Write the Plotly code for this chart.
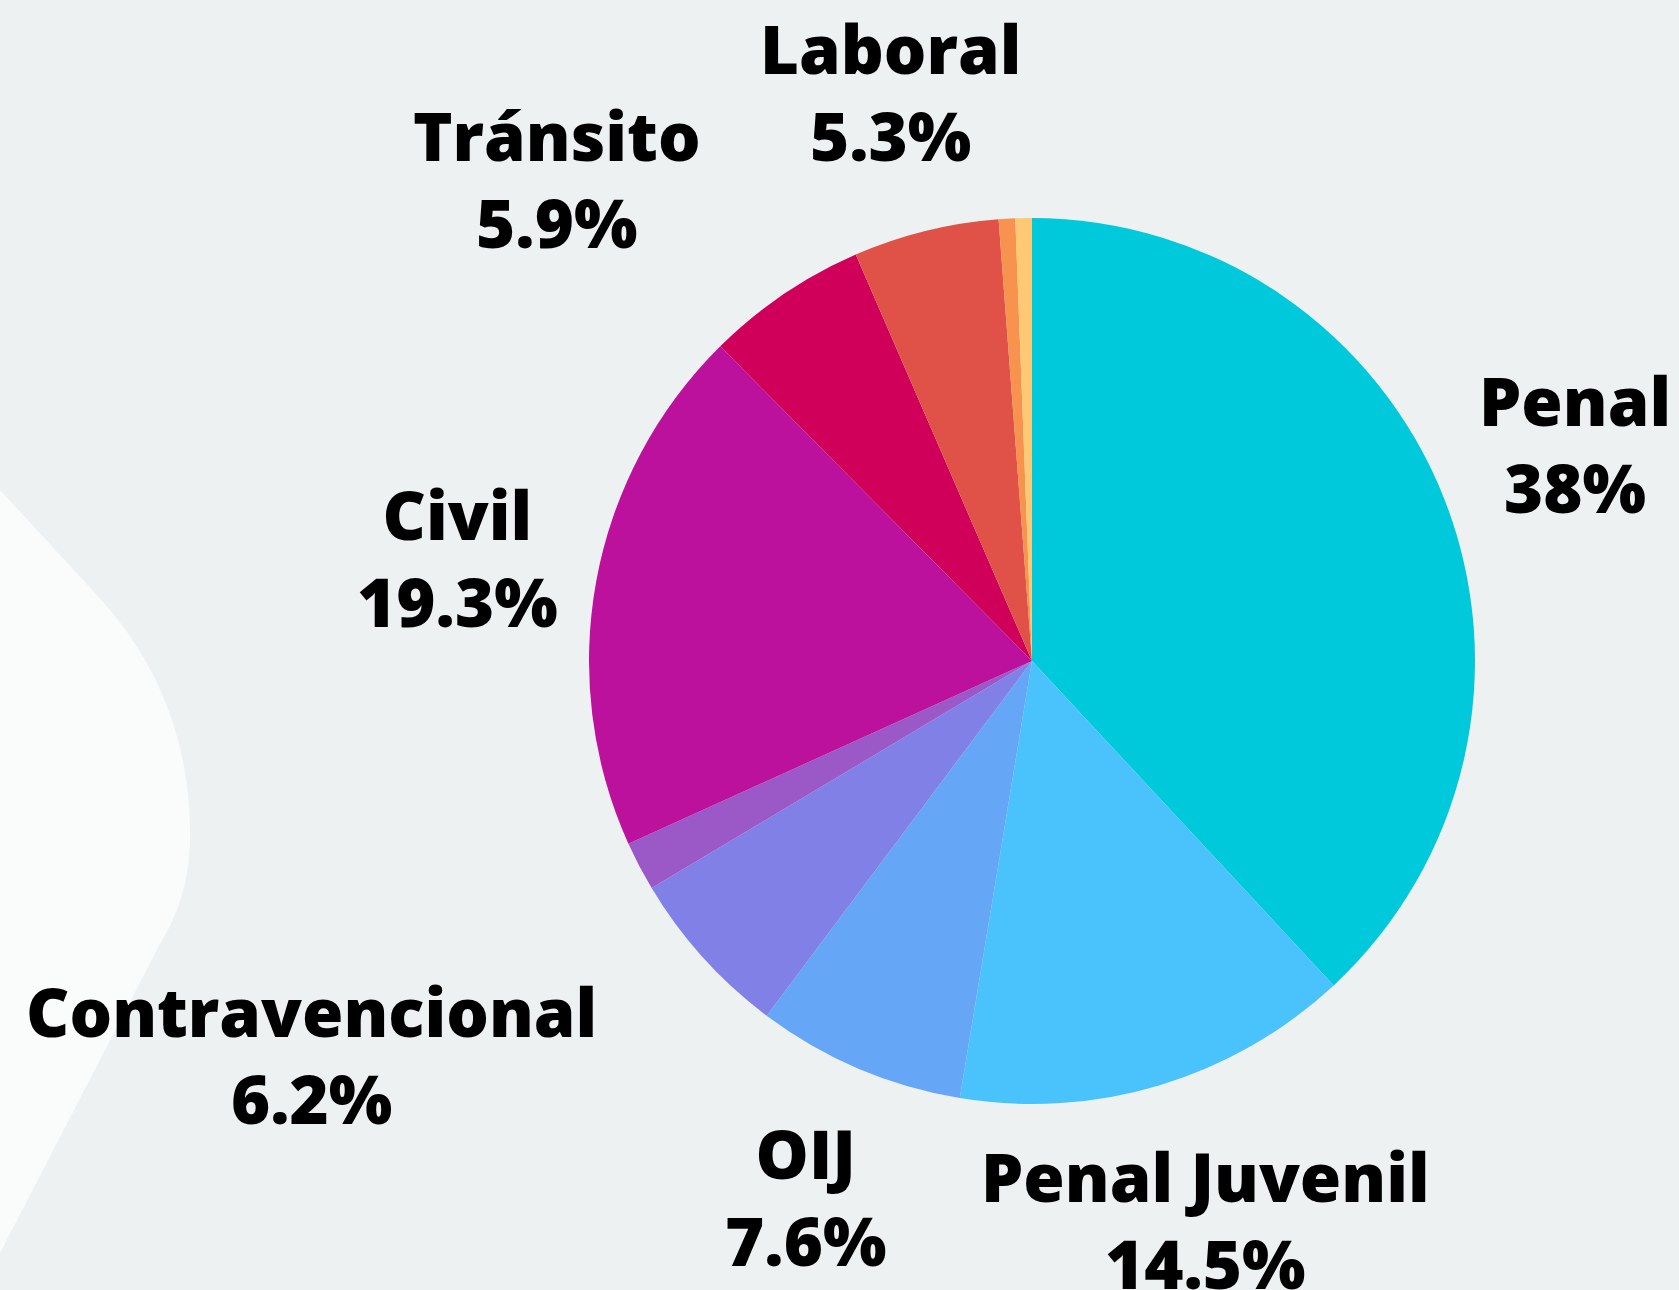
import plotly.graph_objects as go

W, H = 1679, 1290

# slices, clockwise from 12 o'clock
labels = ["Penal", "Penal Juvenil", "OIJ", "Contravencional", "Otros 1",
          "Civil", "Tránsito", "Laboral", "Otros 2", "Otros 3"]
values = [38, 14.5, 7.6, 6.2, 1.8, 19.3, 5.9, 5.3, 0.6, 0.6]
colors = ["#00c9dc", "#4ac3fd", "#66a6f7", "#8080e6", "#9b59c8",
          "#bb119c", "#d0005a", "#e05147", "#f7924f", "#fec874"]

# which slices get a text label
shown = ["Penal", "Penal Juvenil", "OIJ", "Contravencional", "Civil", "Tránsito", "Laboral"]

# label centres in pixels (layout only)
label_pos = {
    "Penal": (1575, 443),
    "Penal Juvenil": (1205, 1219),
    "OIJ": (805, 1196),
    "Contravencional": (311, 1054),
    "Civil": (457, 557),
    "Tránsito": (557, 178),
    "Laboral": (890, 92),
}

BG = "#eef1f2"
LIGHT = "#fafbfb"

cx, cy, r = 1032, 661, 443


def px(x, y):
    return x / W, 1 - y / H


fig = go.Figure()
fig.add_trace(go.Pie(
    labels=labels, values=values,
    sort=False, direction="clockwise", rotation=0,
    marker=dict(colors=colors, line=dict(width=0)),
    textinfo="none", showlegend=False,
    domain=dict(x=[(cx - r) / W, (cx + r) / W], y=[1 - (cy + r) / H, 1 - (cy - r) / H]),
    hovertemplate="%{label}: %{value}%<extra></extra>",
))

for lab in shown:
    v = values[labels.index(lab)]
    x, y = px(*label_pos[lab])
    fig.add_annotation(
        x=x, y=y, xref="paper", yref="paper", xanchor="center", yanchor="middle",
        text=f"{lab}<br>{v:g}%", showarrow=False, align="center",
        font=dict(family="Open Sans", size=67, color="#000000", weight=800),
    )

# lighter backdrop blob on the left edge
path = "M {:.4f},{:.4f} L {:.4f},{:.4f} ".format(*px(0, 490), *px(96, 594))
path += "C {:.4f},{:.4f} {:.4f},{:.4f} {:.4f},{:.4f} ".format(*px(150, 652), *px(190, 730), *px(190, 835))
path += "C {:.4f},{:.4f} {:.4f},{:.4f} {:.4f},{:.4f} ".format(*px(190, 880), *px(178, 915), *px(161, 942))
path += "L {:.4f},{:.4f} L {:.4f},{:.4f} Z".format(*px(0, 1253), *px(0, 490))
fig.add_shape(type="path", path=path, xref="paper", yref="paper",
              fillcolor=LIGHT, line=dict(width=0), layer="below")

fig.update_layout(
    width=W, height=H,
    margin=dict(l=0, r=0, t=0, b=0),
    paper_bgcolor=BG, plot_bgcolor=BG,
    xaxis=dict(visible=False), yaxis=dict(visible=False),
)

fig.write_html(
    "out.html",
    config={"displayModeBar": False},
    post_script="document.body.style.margin='0';document.body.style.overflow='hidden';",
)
